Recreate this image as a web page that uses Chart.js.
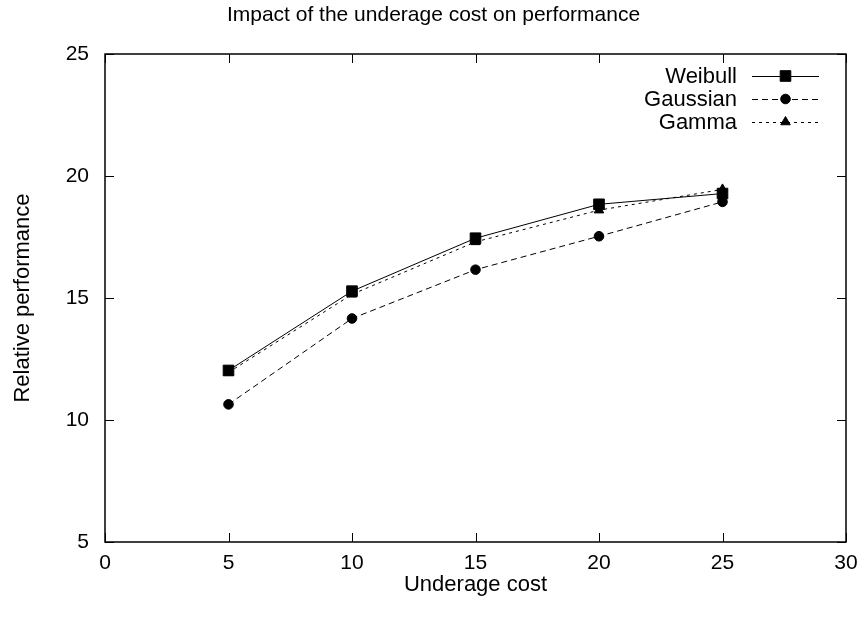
<!DOCTYPE html>
<html>
<head>
<meta charset="utf-8">
<script src="https://cdn.jsdelivr.net/npm/chart.js@4.4.1/dist/chart.umd.min.js"></script>
<style>
  html, body { margin: 0; padding: 0; background: #fff; }
  #wrap { width: 867px; height: 620px; }
</style>
</head>
<body>
<div id="wrap"><canvas id="chart" width="867" height="620"></canvas></div>
<script>
// values
const underageCost = [5, 10, 15, 20, 25];
const weibull  = [12.03, 15.28, 17.45, 18.84, 19.28];
const gaussian = [10.64, 14.16, 16.16, 17.53, 18.94];
const gamma    = [11.95, 15.15, 17.30, 18.60, 19.45];
const xTicks = [0, 5, 10, 15, 20, 25, 30];
const yTicks = [5, 10, 15, 20, 25];
const chartTitle = 'Impact of the underage cost on performance';

const FONT = 'Liberation Sans, Arial, Helvetica, sans-serif';

function toPoints(ys) {
    return underageCost.map((x, i) => ({ x: x, y: ys[i] }));
}

// title centred on the whole canvas (gnuplot style), not on the plot area
const titlePlugin = {
    id: 'canvasTitle',
    afterDraw(chart) {
        const ctx = chart.ctx;
        ctx.save();
        ctx.font = '21px ' + FONT;
        ctx.fillStyle = '#000';
        ctx.textAlign = 'center';
        ctx.textBaseline = 'alphabetic';
        ctx.fillText(chartTitle, chart.width / 2, 21);
        ctx.restore();
    }
};

// gnuplot-like frame: full box with inward ticks on all four sides
const framePlugin = {
    id: 'frame',
    afterDatasetsDraw(chart) {
        const ctx = chart.ctx;
        const a = chart.chartArea;
        const xs = chart.scales.x, ys = chart.scales.y;
        const len = 9;
        ctx.save();
        ctx.strokeStyle = '#000';
        ctx.lineWidth = 1.5;
        ctx.setLineDash([]);
        ctx.strokeRect(a.left, a.top, a.right - a.left, a.bottom - a.top);
        ctx.lineWidth = 1;
        ctx.beginPath();
        xTicks.forEach(v => {
            const px = Math.round(xs.getPixelForValue(v)) + 0.5;
            ctx.moveTo(px, a.bottom); ctx.lineTo(px, a.bottom - len);
            ctx.moveTo(px, a.top); ctx.lineTo(px, a.top + len);
        });
        yTicks.forEach(v => {
            const py = Math.round(ys.getPixelForValue(v)) + 0.5;
            ctx.moveTo(a.left, py); ctx.lineTo(a.left + len, py);
            ctx.moveTo(a.right, py); ctx.lineTo(a.right - len, py);
        });
        ctx.stroke();
        ctx.restore();
    }
};

// key in the top right corner: label, then line sample with marker in the middle
const keyPlugin = {
    id: 'key',
    afterDraw(chart) {
        const ctx = chart.ctx;
        const a = chart.chartArea;
        const textRight = a.right - 109;
        const lineL = a.right - 94, lineR = a.right - 27;
        ctx.save();
        ctx.font = '22px ' + FONT;
        ctx.textAlign = 'right';
        ctx.textBaseline = 'middle';
        chart.data.datasets.forEach((ds, i) => {
            const y = a.top + 22 + i * 23;
            ctx.fillStyle = '#000';
            ctx.fillText(ds.label, textRight, y + 1);
            ctx.strokeStyle = '#000';
            ctx.lineWidth = 1;
            ctx.setLineDash(ds.borderDash || []);
            ctx.beginPath();
            ctx.moveTo(lineL, y + 0.5);
            ctx.lineTo(lineR, y + 0.5);
            ctx.stroke();
            ctx.setLineDash([]);
            Chart.helpers.drawPoint(ctx, {
                pointStyle: ds.pointStyle,
                radius: ds.pointRadius,
                borderWidth: 1
            }, (lineL + lineR) / 2, y);
        });
        ctx.restore();
    }
};

new Chart(document.getElementById('chart'), {
    type: 'line',
    data: {
        datasets: [
            {
                label: 'Weibull',
                data: toPoints(weibull),
                borderColor: '#000',
                backgroundColor: '#000',
                borderWidth: 1,
                pointStyle: 'rect',
                pointRadius: 7.5,
                borderDash: []
            },
            {
                label: 'Gaussian',
                data: toPoints(gaussian),
                borderColor: '#000',
                backgroundColor: '#000',
                borderWidth: 1,
                pointStyle: 'circle',
                pointRadius: 4.8,
                borderDash: [6, 4]
            },
            {
                label: 'Gamma',
                data: toPoints(gamma),
                borderColor: '#000',
                backgroundColor: '#000',
                borderWidth: 1,
                pointStyle: 'triangle',
                pointRadius: 5.5,
                borderDash: [3, 4]
            }
        ]
    },
    options: {
        responsive: false,
        animation: false,
        layout: { padding: { left: 0, right: 21, top: 54, bottom: 0 } },
        plugins: {
            legend: { display: false },
            tooltip: { enabled: false },
            title: { display: false }
        },
        scales: {
            x: {
                type: 'linear',
                min: 0,
                max: 30,
                afterBuildTicks: s => { s.ticks = xTicks.map(v => ({ value: v })); },
                afterFit: s => { s.height = 78; },
                grid: { display: false, drawTicks: false },
                border: { display: false },
                ticks: { color: '#000', padding: 9, maxRotation: 0, font: { family: FONT, size: 21 } },
                title: {
                    display: true,
                    text: 'Underage cost',
                    color: '#000',
                    font: { family: FONT, size: 22 },
                    padding: { top: 22, bottom: 22 }
                }
            },
            y: {
                type: 'linear',
                min: 5,
                max: 25,
                afterBuildTicks: s => { s.ticks = yTicks.map(v => ({ value: v })); },
                afterFit: s => { s.width = 105; },
                grid: { display: false, drawTicks: false },
                border: { display: false },
                ticks: { color: '#000', padding: 16, font: { family: FONT, size: 21 } },
                title: {
                    display: true,
                    text: 'Relative performance',
                    color: '#000',
                    font: { family: FONT, size: 22 },
                    padding: { top: 10, bottom: 10 }
                }
            }
        }
    },
    plugins: [framePlugin, keyPlugin, titlePlugin]
});
</script>
</body>
</html>
